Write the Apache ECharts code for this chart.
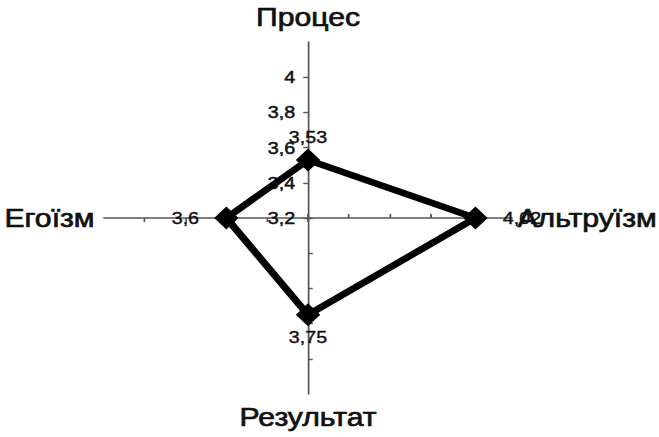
<!DOCTYPE html>
<html>
<head>
<meta charset="utf-8">
<script src="https://cdn.jsdelivr.net/npm/echarts@6/dist/echarts.min.js"></script>
<style>
html,body{margin:0;padding:0;background:#fff;overflow:hidden}
#wrap{width:659px;height:437px;overflow:hidden;position:relative}
#chart{width:568px;height:437px;transform:scaleX(1.1602);transform-origin:0 0}
</style>
</head>
<body>
<div id="wrap"><div id="chart"></div></div>
<script>
// ---- data ----
const categories = ['Процес', 'Егоїзм', 'Результат', 'Альтруїзм'];
const values = [3.53, 3.6, 3.75, 4.02];
const axisMin = 3.2;
const axisMax = 4.2;
const tickMax = 4.0;
const tickLabels = ['3,2', '3,4', '3,6', '3,8', '4'];

// ---- style ----
const FONT = 'Liberation Sans, Arial, sans-serif';
const CX = 265.5, CY = 218, R = 176;
const labelPos = ['top', 'left', 'bottom', 'right'];
const labelDist = [3, 13, 2, 13];
const nameGaps = [12, 8, 10, 4.5];

function fmtVal(v) {
  if (typeof v !== 'number' || !isFinite(v)) return '';
  return String(v).replace('.', ',');
}
function fmtTick(v) {
  const steps = Math.round((v - axisMin) / 0.2);
  return tickLabels[steps] !== undefined ? tickLabels[steps] : '';
}

const chart = echarts.init(document.getElementById('chart'), null, {renderer: 'svg'});

const mainRadar = {
  center: [CX, CY],
  radius: R,
  startAngle: 90,
  splitNumber: 5,
  shape: 'polygon',
  indicator: categories.map((c, i) => ({name: c, min: axisMin, max: axisMax, nameGap: nameGaps[i]})),
  axisName: {show: true, color: '#111', fontSize: 26, fontFamily: FONT,
    textBorderColor: '#111', textBorderWidth: 0.7},
  axisLine: {show: true, lineStyle: {color: '#555', width: 1.5}},
  axisTick: {show: false},
  axisLabel: {show: false},
  splitLine: {show: false},
  splitArea: {show: false}
};
function tickRadar(inside) {
  return {
    center: [CX, CY],
    radius: R * (tickMax - axisMin) / (axisMax - axisMin),
    startAngle: 90,
    splitNumber: 4,
    shape: 'polygon',
    indicator: categories.map((c, i) => {
      const o = {name: c, min: axisMin, max: tickMax};
      if (i === 0 && !inside) o.axisLabel = {show: true};
      return o;
    }),
    axisName: {show: false},
    axisLine: {show: false},
    axisTick: {show: true, inside: inside, length: 4, lineStyle: {color: '#555', width: 1.2}},
    axisLabel: {show: false, color: '#111', fontSize: 17, fontFamily: FONT, margin: 11,
      textBorderColor: '#111', textBorderWidth: 0.5,
      formatter: fmtTick, showMinLabel: true, showMaxLabel: true, hideOverlap: false},
    splitLine: {show: false},
    splitArea: {show: false}
  };
}

const series = [{
  type: 'radar',
  radarIndex: 0,
  symbol: 'diamond',
  symbolSize: [21, 23],
  lineStyle: {color: '#000', width: 6.5},
  itemStyle: {color: '#000'},
  label: {show: false},
  z: 3,
  data: [{value: values}]
}];
categories.forEach((c, i) => {
  series.push({
    type: 'radar',
    radarIndex: 0,
    symbol: 'diamond',
    symbolSize: [21, 23],
    lineStyle: {opacity: 0, width: 0},
    itemStyle: {color: 'rgba(0,0,0,0)'},
    z: 4,
    label: {show: true, position: labelPos[i], distance: labelDist[i], color: '#111',
      fontSize: 17, fontFamily: FONT, textBorderColor: '#111', textBorderWidth: 0.4,
      formatter: p => fmtVal(p.value)},
    data: [{value: values.map((v, j) => (j === i ? v : null))}]
  });
});

chart.setOption({
  animation: false,
  backgroundColor: '#fff',
  radar: [mainRadar, tickRadar(false), tickRadar(true)],
  series: series
});
</script>
</body>
</html>
